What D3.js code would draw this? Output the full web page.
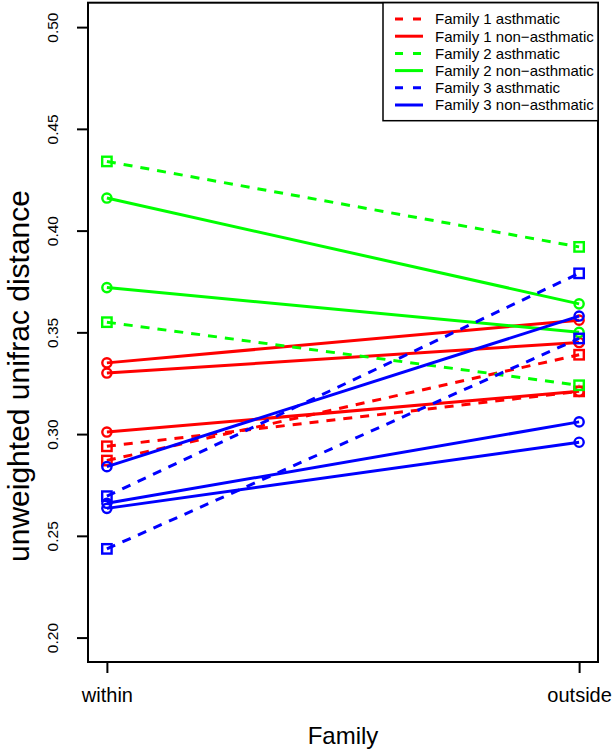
<!DOCTYPE html>
<html>
<head>
<meta charset="utf-8">
<script src="https://cdn.jsdelivr.net/npm/d3@7"></script>
<style>
  body { margin: 0; background: #fff; }
  svg { display: block; font-family: "Liberation Sans", Arial, sans-serif; }
</style>
</head>
<body>
<svg id="chart" width="613" height="750"></svg>
<script>
// x categories and y ticks
const categories = ["within", "outside"];
const yTicks = [0.20, 0.25, 0.30, 0.35, 0.40, 0.45, 0.50];

// each pair is [within, outside]
const fam1Asthmatic = [[0.294, 0.321], [0.287, 0.339]];
const fam1NonAsthmatic = [[0.335, 0.356], [0.330, 0.345], [0.301, 0.321]];
const fam2Asthmatic = [[0.434, 0.392], [0.355, 0.324]];
const fam2NonAsthmatic = [[0.416, 0.364], [0.372, 0.350]];
const fam3Asthmatic = [[0.2695, 0.379], [0.2436, 0.347]];
const fam3NonAsthmatic = [[0.284, 0.358], [0.266, 0.306], [0.2635, 0.296]];

const series = [
    { name: "Family 1 asthmatic", color: "#ff0000", dashed: true, values: fam1Asthmatic },
    { name: "Family 1 non\u2212asthmatic", color: "#ff0000", dashed: false, values: fam1NonAsthmatic },
    { name: "Family 2 asthmatic", color: "#00ff00", dashed: true, values: fam2Asthmatic },
    { name: "Family 2 non\u2212asthmatic", color: "#00ff00", dashed: false, values: fam2NonAsthmatic },
    { name: "Family 3 asthmatic", color: "#0000ff", dashed: true, values: fam3Asthmatic },
    { name: "Family 3 non\u2212asthmatic", color: "#0000ff", dashed: false, values: fam3NonAsthmatic }
];

const svg = d3.select("#chart");

// plot frame
const frame = { left: 88, right: 598, top: 2.7, bottom: 662 };

// R style 4% padding around the data range
const x = d3.scaleLinear().domain([0.96, 2.04]).range([frame.left, frame.right]);
const y = d3.scaleLinear().domain([0.188, 0.512]).range([frame.bottom, frame.top]);

const dash = "9,8";

// lines
const line = d3.line()
    .x(function (d, i) { return x(i + 1); })
    .y(function (d) { return y(d); });

const plot = svg.append("g");

series.forEach(function (s) {
    const g = plot.append("g");
    g.selectAll("path")
        .data(s.values)
        .enter().append("path")
        .attr("d", line)
        .attr("fill", "none")
        .attr("stroke", s.color)
        .attr("stroke-width", 3)
        .attr("stroke-dasharray", s.dashed ? dash : null);

    const pts = s.values.flatMap(function (v) {
        return v.map(function (val, i) { return { i: i + 1, v: val }; });
    });

    if (s.dashed) {
        g.selectAll("rect")
            .data(pts)
            .enter().append("rect")
            .attr("x", function (d) { return x(d.i) - 4.7; })
            .attr("y", function (d) { return y(d.v) - 4.7; })
            .attr("width", 9.4)
            .attr("height", 9.4)
            .attr("fill", "none")
            .attr("stroke", s.color)
            .attr("stroke-width", 2.4);
    } else {
        g.selectAll("circle")
            .data(pts)
            .enter().append("circle")
            .attr("cx", function (d) { return x(d.i); })
            .attr("cy", function (d) { return y(d.v); })
            .attr("r", 4.6)
            .attr("fill", "none")
            .attr("stroke", s.color)
            .attr("stroke-width", 2.4);
    }
});

// frame
svg.append("rect")
    .attr("x", frame.left)
    .attr("y", frame.top)
    .attr("width", frame.right - frame.left)
    .attr("height", frame.bottom - frame.top)
    .attr("fill", "none")
    .attr("stroke", "#000")
    .attr("stroke-width", 2);

// y axis
const yAxis = svg.append("g")
    .attr("transform", "translate(" + frame.left + ",0)")
    .call(d3.axisLeft(y).tickValues(yTicks).tickSize(11).tickSizeOuter(0).tickFormat(d3.format(".2f")));
yAxis.select(".domain").remove();
yAxis.selectAll(".tick line").attr("stroke", "#000").attr("stroke-width", 2);
yAxis.selectAll(".tick text")
    .attr("x", null)
    .attr("dy", "0.35em")
    .attr("transform", "translate(-35,0) rotate(-90)")
    .attr("text-anchor", "middle")
    .attr("fill", "#000")
    .style("font-size", "15.5px")
    .style("font-family", "Liberation Sans, Arial, sans-serif");

// x axis
const xAxis = svg.append("g")
    .attr("transform", "translate(0," + frame.bottom + ")")
    .call(d3.axisBottom(x).tickValues([1, 2]).tickSize(11).tickSizeOuter(0)
        .tickFormat(function (d) { return categories[d - 1]; }));
xAxis.select(".domain").remove();
xAxis.selectAll(".tick line").attr("stroke", "#000").attr("stroke-width", 2);
xAxis.selectAll(".tick text")
    .attr("y", 40)
    .attr("dy", null)
    .attr("fill", "#000")
    .style("font-size", "20px")
    .style("font-family", "Liberation Sans, Arial, sans-serif");

// axis titles
svg.append("text")
    .attr("x", (frame.left + frame.right) / 2)
    .attr("y", 744)
    .attr("text-anchor", "middle")
    .style("font-size", "24px")
    .text("Family");

svg.append("text")
    .attr("transform", "translate(29,376) rotate(-90)")
    .attr("text-anchor", "middle")
    .style("font-size", "30px")
    .text("unweighted unifrac distance");

// legend
const legend = svg.append("g");
legend.append("rect")
    .attr("x", 383)
    .attr("y", frame.top)
    .attr("width", frame.right - 383)
    .attr("height", 118)
    .attr("fill", "#fff")
    .attr("stroke", "#000")
    .attr("stroke-width", 1.5);

const rows = legend.selectAll("g.row")
    .data(series)
    .enter().append("g")
    .attr("class", "row")
    .attr("transform", function (d, i) { return "translate(0," + (19 + i * 17.2) + ")"; });

rows.append("line")
    .attr("x1", 395)
    .attr("x2", 423)
    .attr("stroke", function (d) { return d.color; })
    .attr("stroke-width", 3)
    .attr("stroke-dasharray", function (d) { return d.dashed ? "8,10" : null; });

rows.append("text")
    .attr("x", 435)
    .attr("dy", "0.36em")
    .style("font-size", "15px")
    .text(function (d) { return d.name; });
</script>
</body>
</html>
